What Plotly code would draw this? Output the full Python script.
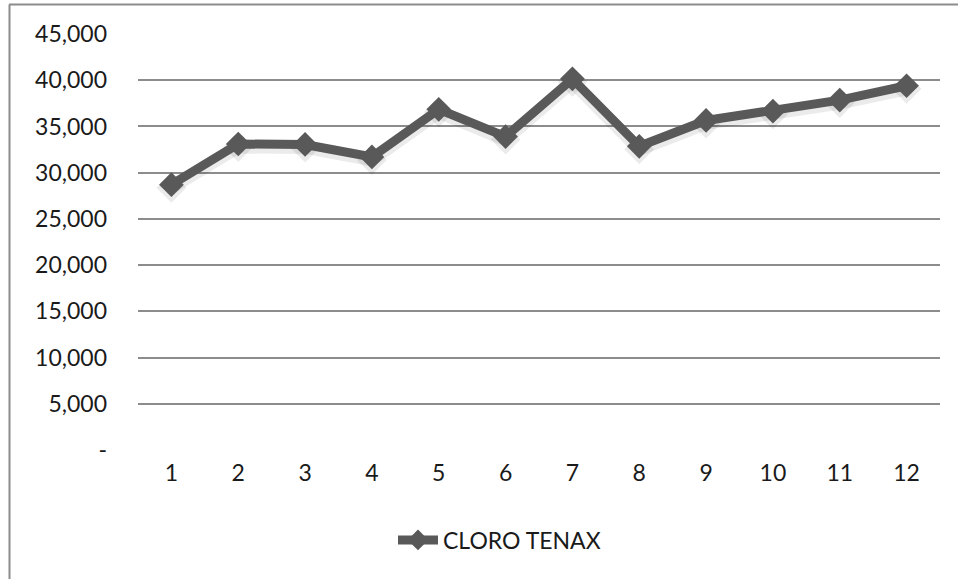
import plotly.graph_objects as go

# Monthly values for the series
months = [1, 2, 3, 4, 5, 6, 7, 8, 9, 10, 11, 12]
cloro_tenax = [28700, 33100, 33050, 31700, 36850, 33900, 40150, 32850, 35650, 36650, 37850, 39400]
series_name = "CLORO TENAX"

y_ticks = [0, 5000, 10000, 15000, 20000, 25000, 30000, 35000, 40000, 45000]
y_labels = ["-"] + [f"{v:,}" for v in y_ticks[1:]]

W, H = 958, 579
ML, MR, MT, MB = 138, 18, 34, 129
plot_w = W - ML - MR
plot_h = H - MT - MB

line_col = "#595959"
grid_col = "#8c8c8c"
font = dict(family="Lato, Carlito, Calibri, sans-serif", size=23, color="#1a1a1a")

fig = go.Figure()

# soft drop shadow under the line
shadow_shift = 3 * 45000 / plot_h
fig.add_trace(go.Scatter(
    x=months, y=[v - shadow_shift for v in cloro_tenax],
    mode="lines+markers",
    line=dict(color="rgba(0,0,0,0.08)", width=13),
    marker=dict(symbol="diamond", size=23, color="rgba(0,0,0,0.08)"),
    hoverinfo="skip", showlegend=False,
))

fig.add_trace(go.Scatter(
    x=months, y=cloro_tenax, name=series_name,
    mode="lines+markers",
    line=dict(color=line_col, width=9),
    marker=dict(symbol="diamond", size=19, color=line_col),
))

# chart frame (top and left edges)
px = lambda p: (p - ML) / plot_w
py = lambda p: (H - MB - p) / plot_h
frame = dict(color=grid_col, width=2)
fig.add_shape(type="line", xref="paper", yref="paper",
              x0=px(9), x1=px(W + 5), y0=py(4.5), y1=py(4.5), line=frame)
fig.add_shape(type="line", xref="paper", yref="paper",
              x0=px(9.5), x1=px(9.5), y0=py(4.5), y1=py(H + 5), line=frame)

fig.update_layout(
    width=W, height=H,
    margin=dict(l=ML, r=MR, t=MT, b=MB),
    paper_bgcolor="white", plot_bgcolor="white",
    font=font,
    showlegend=True,
    legend=dict(orientation="h", x=px(393), xanchor="left",
                y=py(540), yanchor="middle",
                font=font, bgcolor="rgba(0,0,0,0)", itemwidth=40),
    xaxis=dict(
        tickmode="array", tickvals=months, ticktext=[str(m) for m in months],
        range=[0.5, 12.5], showgrid=False, zeroline=False, showline=False,
        ticks="", ticklabelstandoff=7,
    ),
    yaxis=dict(
        tickmode="array", tickvals=y_ticks, ticktext=y_labels,
        range=[0, 45000], showgrid=True, gridcolor=grid_col, gridwidth=2,
        zeroline=False, showline=False, ticks="", ticklabelstandoff=30,
    ),
)

fig.write_html("out.html")
